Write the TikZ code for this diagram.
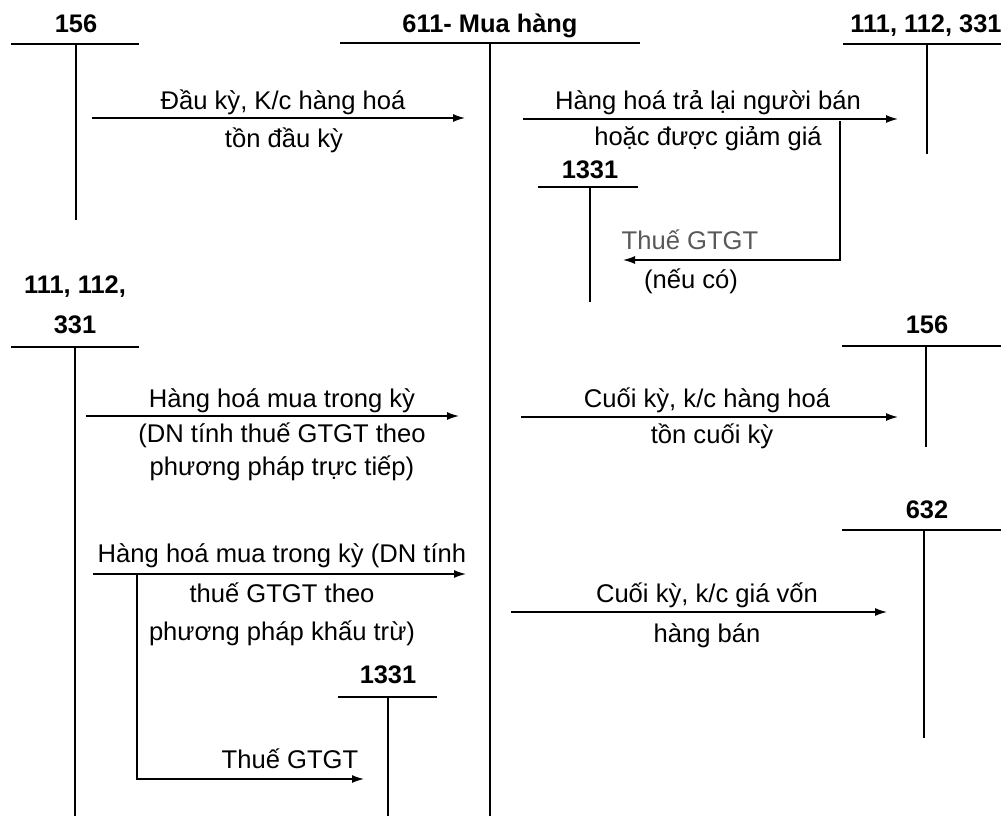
\documentclass[tikz,border=0pt]{standalone}
\usepackage{fontspec}
\setmainfont{Liberation Sans}
\usetikzlibrary{arrows.meta}
\begin{document}
\begin{tikzpicture}[x=1pt,y=-1pt,
  acc/.style={line width=1.4pt},
  mainacc/.style={line width=2.6pt},
  flow/.style={line width=1.4pt,-{Latex[length=12pt,width=8pt]}},
  lbl/.style={font=\fontsize{25.6}{30}\selectfont, anchor=base, inner sep=0pt},
  lightlbl/.style={lbl, text=black!65},
  hdr/.style={font=\fontsize{25.4}{30}\selectfont\bfseries, anchor=base, inner sep=0pt}]
\useasboundingbox[fill=white] (0,0) rectangle (1001,816);

% ---- account headers
\node[hdr] (h156a) at (76,33) {156};
\node[hdr] (h611) at (490,33) {611- Mua hàng};
\node[hdr] (h111a) at (926,33) {111, 112, 331};
\node[hdr] (h1331a) at (590,178) {1331};
\node[hdr] (h111b1) at (75,293) {111, 112,};
\node[hdr] (h111b2) at (75,333) {331};
\node[hdr] (h156b) at (927,333) {156};
\node[hdr] (h632) at (927,518) {632};
\node[hdr] (h1331b) at (388,683) {1331};

% ---- T-accounts
\coordinate (t156aL) at (11,44);  \coordinate (t156aR) at (139,44);
\coordinate (t156aT) at (76,44);  \coordinate (t156aB) at (76,220);
\draw[acc] (t156aL) -- (t156aR); \draw[acc] (t156aT) -- (t156aB);

\coordinate (t611L) at (340,43);  \coordinate (t611R) at (640,43);
\coordinate (t611T) at (490,43);  \coordinate (t611B) at (490,816);
\draw[mainacc] (t611L) -- (t611R); \draw[mainacc] (t611T) -- (t611B);

\coordinate (t111aL) at (843,44);  \coordinate (t111aR) at (1001,44);
\coordinate (t111aT) at (927,44);  \coordinate (t111aB) at (927,154);
\draw[acc] (t111aL) -- (t111aR); \draw[acc] (t111aT) -- (t111aB);

\coordinate (t1331aL) at (538,187);  \coordinate (t1331aR) at (638,187);
\coordinate (t1331aT) at (590,187);  \coordinate (t1331aB) at (590,302);
\draw[acc] (t1331aL) -- (t1331aR); \draw[acc] (t1331aT) -- (t1331aB);

\coordinate (t111bL) at (11,347);  \coordinate (t111bR) at (139,347);
\coordinate (t111bT) at (75,347);  \coordinate (t111bB) at (75,816);
\draw[acc] (t111bL) -- (t111bR); \draw[acc] (t111bT) -- (t111bB);

\coordinate (t156bL) at (842,346);  \coordinate (t156bR) at (1001,346);
\coordinate (t156bT) at (926,346);  \coordinate (t156bB) at (926,447);
\draw[acc] (t156bL) -- (t156bR); \draw[acc] (t156bT) -- (t156bB);

\coordinate (t632L) at (842,530);  \coordinate (t632R) at (1001,530);
\coordinate (t632T) at (924,530);  \coordinate (t632B) at (924,738);
\draw[acc] (t632L) -- (t632R); \draw[acc] (t632T) -- (t632B);

\coordinate (t1331bL) at (338,697);  \coordinate (t1331bR) at (437,697);
\coordinate (t1331bT) at (388,697);  \coordinate (t1331bB) at (388,816);
\draw[acc] (t1331bL) -- (t1331bR); \draw[acc] (t1331bT) -- (t1331bB);

% ---- flow 1: 156 -> 611
\coordinate (a1s) at (92,118); \coordinate (a1e) at (465,118);
\draw[flow] (a1s) -- (a1e);
\node[lbl] (l1a) at (283,109) {Đầu kỳ, K/c hàng hoá};
\node[lbl] (l1b) at (284,147) {tồn đầu kỳ};

% ---- flow 2: 611 -> 111,112,331 and 1331
\coordinate (a2s) at (523,119); \coordinate (a2e) at (898,119);
\draw[flow] (a2s) -- (a2e);
\node[lbl] (l2a) at (708,109) {Hàng hoá trả lại người bán};
\node[lbl] (l2b) at (708,145) {hoặc được giảm giá};
\coordinate (a2k) at (840,121); \coordinate (a2c) at (840,260); \coordinate (a2t) at (623,260);
\draw[flow] (a2k) -- (a2c) -- (a2t);
\node[lightlbl] (l2c) at (690,249) {Thuế GTGT};
\node[lbl] (l2d) at (691,288) {(nếu có)};

% ---- flow 3: 111,112,331 -> 611 (truc tiep)
\coordinate (a3s) at (86,416); \coordinate (a3e) at (459,416);
\draw[flow] (a3s) -- (a3e);
\node[lbl] (l3a) at (282,407) {Hàng hoá mua trong kỳ};
\node[lbl] (l3b) at (282,442) {(DN tính thuế GTGT theo};
\node[lbl] (l3c) at (282,475) {phương pháp trực tiếp)};

% ---- flow 4: 611 -> 156
\coordinate (a4s) at (521,417); \coordinate (a4e) at (898,417);
\draw[flow] (a4s) -- (a4e);
\node[lbl] (l4a) at (707,407) {Cuối kỳ, k/c hàng hoá};
\node[lbl] (l4b) at (712,443) {tồn cuối kỳ};

% ---- flow 5: 111,112,331 -> 611 (khau tru) and 1331
\coordinate (a5s) at (93,574); \coordinate (a5e) at (466,574);
\draw[flow] (a5s) -- (a5e);
\node[lbl] (l5a) at (282,562) {Hàng hoá mua trong kỳ (DN tính};
\node[lbl] (l5b) at (282,602) {thuế GTGT theo};
\node[lbl] (l5c) at (282,640) {phương pháp khấu trừ)};
\coordinate (a5k) at (137,573); \coordinate (a5c) at (137,779); \coordinate (a5t) at (364,779);
\draw[flow] (a5k) -- (a5c) -- (a5t);
\node[lbl] (l5d) at (290,768) {Thuế GTGT};

% ---- flow 6: 611 -> 632
\coordinate (a6s) at (511,612); \coordinate (a6e) at (887,612);
\draw[flow] (a6s) -- (a6e);
\node[lbl] (l6a) at (707,602) {Cuối kỳ, k/c giá vốn};
\node[lbl] (l6b) at (707,642) {hàng bán};
\end{tikzpicture}
\end{document}
